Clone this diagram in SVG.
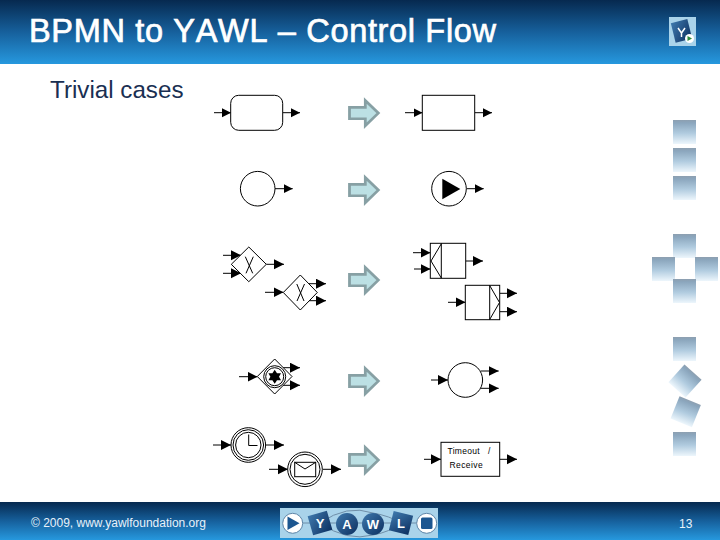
<svg xmlns="http://www.w3.org/2000/svg" width="720" height="540" viewBox="0 0 720 540">
<defs>
<linearGradient id="hdr" x1="0" y1="0" x2="0" y2="1"><stop offset="0" stop-color="#06294f"/><stop offset="0.5" stop-color="#16609c"/><stop offset="1" stop-color="#2698de"/></linearGradient>
<linearGradient id="sq" x1="0" y1="0" x2="0" y2="1"><stop offset="0" stop-color="#8d9fb0"/><stop offset="0.12" stop-color="#8ba6bd"/><stop offset="0.55" stop-color="#b0cbdf"/><stop offset="1" stop-color="#edf6fc"/></linearGradient>
<linearGradient id="ball" x1="0" y1="0" x2="1" y2="1"><stop offset="0" stop-color="#3f79ad"/><stop offset="1" stop-color="#0c2f60"/></linearGradient>
<marker id="ah" markerUnits="userSpaceOnUse" markerWidth="10" markerHeight="10" refX="9" refY="4.5" orient="auto"><path d="M0 0L9 4.500L0 9Z" fill="#000"/></marker>
<marker id="ahb" markerUnits="userSpaceOnUse" markerWidth="11" markerHeight="11" refX="10" refY="5" orient="auto"><path d="M0 0L10 5L0 10Z" fill="#000"/></marker>
<path id="bigarrow" d="M0 7.7H17V0L31 14L17 28V20.3H0Z" fill="#bce0e4" stroke="#87a0a4" stroke-width="3" transform="translate(1.5 1.5) scale(.93 .9)"/>
<rect id="s" width="23" height="24" fill="url(#sq)"/>
</defs>
<style>
.n{fill:#fff;stroke:#000;stroke-width:1}
.t{fill:none;stroke:#000;stroke-width:1}
.c line{stroke:#000;stroke-width:1;marker-end:url(#ah)}
.c .b line{marker-end:url(#ahb)}
.lbl{font-family:"Liberation Sans",Arial,sans-serif}
.ft{font-family:"Liberation Sans",Arial,sans-serif;font-size:12px;fill:#e8f2fa}
.lg{font-family:"Liberation Sans",Arial,sans-serif;font-size:13px;font-weight:bold;fill:#fff;text-anchor:middle}
</style>
<rect width="720" height="540" fill="#fff"/>
<rect id="header" width="720" height="64" fill="url(#hdr)"/>
<rect id="footer" y="502" width="720" height="38" fill="url(#hdr)"/>
<text class="lbl" x="29" y="42" font-size="32.5" fill="#fff" stroke="#fff" stroke-width=".7" style="font-kerning:none" textLength="467" lengthAdjust="spacing">BPMN to YAWL – Control Flow</text>
<text class="lbl" x="50" y="98" font-size="24.2" fill="#1a2f52">Trivial cases</text>
<text class="ft" x="31" y="527">© 2009, www.yawlfoundation.org</text>
<text class="ft" x="679" y="528">13</text>

<g id="header-logo">
<rect x="669" y="17" width="27" height="29" fill="#a9d3ea"/>
<rect x="673" y="21" width="17" height="20" fill="url(#ball)" transform="rotate(-14 681 31)"/>
<path d="M678 28L681.500 33V37M685 28L681.500 33" fill="none" stroke="#fff" stroke-width="1.500"/>
<circle cx="689.500" cy="38.500" r="4.500" fill="#fff"/>
<path d="M687.500 36V41L692 38.500Z" fill="#2d8a3a"/>
</g>

<g id="side-squares">
<use href="#s" x="673" y="120"/><use href="#s" x="673" y="148"/><use href="#s" x="673" y="176"/>
<use href="#s" x="673" y="234"/><use href="#s" x="652" y="257"/><use href="#s" x="695" y="257"/><use href="#s" x="673" y="279"/>
<use href="#s" x="673" y="337"/>
<use href="#s" transform="translate(685 381) rotate(42) translate(-11.500 -12)"/>
<use href="#s" transform="translate(685.700 411.700) rotate(22) translate(-11.500 -12)"/>
<use href="#s" x="673" y="432"/>
</g>

<g id="mapping-arrows">
<use href="#bigarrow" x="348" y="99"/>
<use href="#bigarrow" x="348" y="176"/>
<use href="#bigarrow" x="348" y="266"/>
<use href="#bigarrow" x="348" y="367"/>
<use href="#bigarrow" x="348" y="446"/>
</g>

<g id="connectors" class="c">
<line x1="214" y1="112.700" x2="231" y2="112.700"/><line x1="283" y1="112.700" x2="300" y2="112.700"/>
<line x1="405" y1="112.700" x2="422.500" y2="112.700"/><line x1="475" y1="112.700" x2="492" y2="112.700"/>
<line x1="275" y1="188.700" x2="292.700" y2="188.700"/><line x1="466.500" y1="188.700" x2="483.700" y2="188.700"/>
<g class="b">
<line x1="223" y1="255.300" x2="241" y2="255.300"/><line x1="223" y1="273.300" x2="241" y2="273.300"/><line x1="266.300" y1="264.300" x2="284" y2="264.300"/>
<line x1="265" y1="292.300" x2="283.500" y2="292.300"/><line x1="309" y1="283.700" x2="326" y2="283.700"/><line x1="309" y1="300.700" x2="326" y2="300.700"/>
<line x1="413" y1="252.700" x2="430.500" y2="252.700"/><line x1="414" y1="269" x2="430.500" y2="269"/><line x1="465.700" y1="261" x2="483" y2="261"/>
<line x1="448" y1="302.300" x2="465.500" y2="302.300"/><line x1="499.700" y1="293.300" x2="517" y2="293.300"/><line x1="499.700" y1="311.700" x2="517" y2="311.700"/>
<line x1="239" y1="376.700" x2="257.500" y2="376.700"/><line x1="282.700" y1="367.700" x2="300" y2="367.700"/><line x1="282.700" y1="385.300" x2="300" y2="385.300"/>
<line x1="431" y1="380" x2="448" y2="380"/><line x1="480.700" y1="371" x2="498.700" y2="371"/><line x1="480.700" y1="388.300" x2="498.700" y2="388.300"/>
<line x1="213" y1="445" x2="231" y2="445"/><line x1="265.700" y1="445" x2="284" y2="445"/>
<line x1="269" y1="469.300" x2="288" y2="469.300"/><line x1="322.700" y1="469.300" x2="341" y2="469.300"/>
<line x1="424" y1="459.300" x2="441" y2="459.300"/><line x1="499.700" y1="459.300" x2="517" y2="459.300"/>
</g>
</g>

<g id="bpmn-task"><rect class="n" x="230.700" y="95.300" width="52" height="35" rx="8"/></g>
<g id="yawl-task"><rect class="n" x="422.300" y="95.300" width="52.400" height="35"/></g>
<g id="bpmn-start"><circle class="n" cx="257.700" cy="188.700" r="17.300"/></g>
<g id="yawl-start"><circle class="n" cx="449" cy="188.700" r="17.300"/><path d="M442.300 178.700L460.300 189L442.300 199.300Z" fill="#000"/></g>
<g id="xor-join"><path class="n" d="M231.300 264.300L248.800 247L266.300 264.300L248.800 281.700Z"/><path class="t" d="M245.300 256.700L252.700 273.300M253.300 256.700L246 273.300"/></g>
<g id="xor-split"><path class="n" d="M283.300 292.500L300.300 275L317.300 292.500L300.300 310Z"/><path class="t" d="M296.800 284L304 301M304.500 284L297 301"/></g>
<g id="yawl-xor-join"><rect class="n" x="430.300" y="243.300" width="35.400" height="35"/><path class="t" d="M441.300 243.300V278.300M441.300 243.800L431 261L441.300 278"/></g>
<g id="yawl-xor-split"><rect class="n" x="465.300" y="285.300" width="34.400" height="34.400"/><path class="t" d="M489.700 285.300V319.700M489.700 285.500L499.500 302.500L489.700 319.500"/></g>
<g id="event-gateway"><path class="n" d="M257.300 376.500L274.700 359L292 376.500L274.700 394Z"/>
<circle class="t" cx="274.700" cy="376.700" r="11"/><circle class="t" cx="274.700" cy="376.700" r="9"/>
<path d="M274.700 369.700L277 373.200L281 373.200L279 376.700L281 380.200L277 380.200L274.700 383.700L272.400 380.200L268.400 380.200L270.400 376.700L268.400 373.200L272.400 373.200Z" fill="#000"/></g>
<g id="yawl-condition"><circle class="n" cx="465.300" cy="380" r="17.300"/></g>
<g id="timer-event"><circle class="n" cx="248.300" cy="445" r="17.300"/><circle class="t" cx="248.300" cy="445" r="15.300"/><circle class="t" cx="248.300" cy="445" r="12.700"/><path class="t" d="M248.700 434.500V445.500H257.500"/></g>
<g id="message-event"><circle class="n" cx="305" cy="469.300" r="17.300"/><circle class="t" cx="305" cy="469.300" r="15"/><rect class="t" x="294.700" y="462.300" width="21" height="14.400"/><path class="t" d="M294.700 462.300L305 469L315.700 462.300"/></g>
<g id="timeout-receive"><rect class="n" x="441" y="442.300" width="58.700" height="34"/>
<text class="lbl" x="447.500" y="454" font-size="8.500" fill="#000" letter-spacing=".3" xml:space="preserve">Timeout   /</text>
<text class="lbl" x="449.500" y="468" font-size="8.500" fill="#000" letter-spacing=".4">Receive</text></g>

<g id="footer-logo">
<rect x="280" y="508" width="158" height="30" fill="#a9d3ea"/>
<path d="M320 523Q347 504 373 513Q390 516 401 523M320 523Q347 542 373 535Q390 532 401 523" fill="none" stroke="#6f8ea8" stroke-width="1"/>
<path d="M292 523H427" stroke="#6f8ea8" stroke-width="1"/>
<circle cx="292.700" cy="523.300" r="10" fill="#fff" stroke="#5f86a8"/><path d="M287.500 516.500L299.500 523.300L287.500 530Z" fill="#1c5690"/>
<rect x="310" y="513" width="20" height="20" fill="url(#ball)" transform="rotate(-16 320 523)"/><text class="lg" x="320" y="528">Y</text>
<circle cx="347" cy="524" r="11" fill="url(#ball)"/><text class="lg" x="347" y="529">A</text>
<circle cx="373" cy="524" r="11" fill="url(#ball)"/><text class="lg" x="373" y="529">W</text>
<rect x="391" y="513" width="20" height="20" fill="url(#ball)" transform="rotate(14 401 523)"/><text class="lg" x="401" y="528">L</text>
<circle cx="426.700" cy="523.300" r="10" fill="#fff" stroke="#5f86a8"/><rect x="421" y="517.500" width="11.500" height="11.500" rx="1.500" fill="#1c5690"/>
</g>
</svg>
